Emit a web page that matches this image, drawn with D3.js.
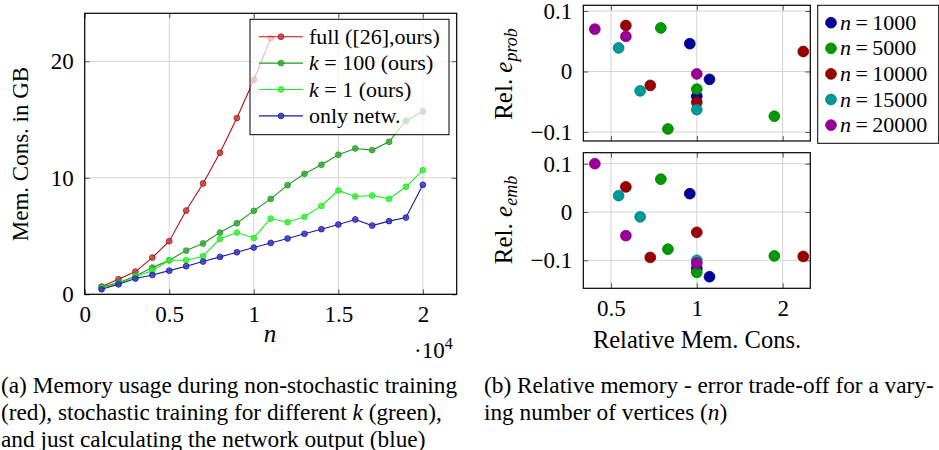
<!DOCTYPE html>
<html>
<head>
<meta charset="utf-8">
<script src="https://cdn.jsdelivr.net/npm/d3@7"></script>
<style>
  body { margin: 0; background: #fff; }
</style>
</head>
<body>
<div class="canvas"></div>
<script>
// ---- data: left plot (n in units of 10^4, memory in GB)
const nTicks = [0.1, 0.2, 0.3, 0.4, 0.5, 0.6, 0.7, 0.8, 0.9, 1.0, 1.1, 1.2, 1.3, 1.4, 1.5, 1.6, 1.7, 1.8, 1.9, 2.0];
const memFull = [0.66, 1.29, 1.95, 3.15, 4.56, 7.19, 9.51, 12.15, 15.13, 18.4, 21.98];
const memK100 = [0.6, 1.0, 1.58, 2.29, 2.92, 3.75, 4.36, 5.3, 6.1, 7.16, 8.19, 9.37, 10.34, 11.12, 11.98, 12.52, 12.38, 13.09, 14.9, 15.7];
const memK1 = [0.54, 0.89, 1.52, 2.03, 2.92, 2.92, 3.27, 4.76, 5.3, 4.84, 6.5, 6.19, 6.65, 7.59, 8.91, 8.4, 8.48, 8.19, 9.23, 10.66];
const memNet = [0.43, 0.86, 1.35, 1.66, 2.03, 2.41, 2.81, 3.21, 3.61, 4.01, 4.41, 4.79, 5.19, 5.59, 5.99, 6.42, 5.9, 6.28, 6.59, 9.4];

// ---- data: right plot (relative memory vs relative errors)
const nGroups = [1000, 5000, 10000, 15000, 20000];
const relMem = [
  [0.945, 1.108, 1],
  [0.748, 0.792, 1, 1.87],
  [0.564, 0.687, 1, 2.362],
  [0.532, 0.633, 1],
  [0.439, 0.564, 1]
];
const eProb = [
  [0.046, -0.013, -0.041],
  [0.072, -0.095, -0.029, -0.074],
  [0.076, -0.023, -0.051, 0.033],
  [0.039, -0.032, -0.063],
  [0.070, 0.058, -0.004]
];
const eEmb = [
  [0.038, -0.134, -0.117],
  [0.068, -0.077, -0.125, -0.091],
  [0.052, -0.094, -0.042, -0.092],
  [0.034, -0.010, -0.100],
  [0.100, -0.049, -0.106]
];
const groupColors = ["#000099", "#009900", "#990000", "#009999", "#990099"];

const FONT = "Liberation Serif";
const svg = d3.select(".canvas").append("svg")
  .attr("width", 939).attr("height", 450)
  .attr("font-family", FONT);

const gridColor = "#d4d4d4";
const fs = 23;

let txt = (parent) => parent.append("text").attr("font-family", FONT);

// ================= left plot =================
let xL = d3.scaleLinear().domain([0, 2.2]).range([84.7, 456.7]);
let yL = d3.scaleLinear().domain([0, 24.12]).range([294.3, 13.3]);
let left = svg.append("g");

// grid
left.selectAll(".gx").data([0, 0.5, 1, 1.5, 2]).enter().append("line")
  .attr("x1", d => xL(d)).attr("x2", d => xL(d))
  .attr("y1", yL.range()[0]).attr("y2", yL.range()[1])
  .attr("stroke", gridColor).attr("stroke-width", 1);
left.selectAll(".gy").data([0, 10, 20]).enter().append("line")
  .attr("x1", xL.range()[0]).attr("x2", xL.range()[1])
  .attr("y1", d => yL(d)).attr("y2", d => yL(d))
  .attr("stroke", gridColor).attr("stroke-width", 1);

// axes with inner ticks on all sides
let axB = d3.axisBottom(xL).tickValues([0, 0.5, 1, 1.5, 2]).tickSize(-5).tickFormat(d3.format("~g")).tickPadding(11);
let axT = d3.axisTop(xL).tickValues([0, 0.5, 1, 1.5, 2]).tickSize(-5).tickFormat("");
let axLft = d3.axisLeft(yL).tickValues([0, 10, 20]).tickSize(-5).tickPadding(11);
let axR = d3.axisRight(yL).tickValues([0, 10, 20]).tickSize(-5).tickFormat("");
[[axB, `translate(0,${yL.range()[0]})`], [axT, `translate(0,${yL.range()[1]})`],
 [axLft, `translate(${xL.range()[0]},0)`], [axR, `translate(${xL.range()[1]},0)`]].forEach(([ax, tr]) => {
  let g = left.append("g").attr("transform", tr).call(ax);
  g.attr("font-family", FONT);
  g.select(".domain").remove();
  g.selectAll("line").attr("stroke", "#555");
  g.selectAll("text").attr("font-family", FONT).attr("font-size", fs).attr("fill", "#000");
});
left.append("rect")
  .attr("x", xL.range()[0]).attr("y", yL.range()[1])
  .attr("width", xL.range()[1] - xL.range()[0]).attr("height", yL.range()[0] - yL.range()[1])
  .attr("fill", "none").attr("stroke", "#000").attr("stroke-width", 1.2);

const seriesL = [
  { name: "full", vals: memFull, color: "#b01010", fill: "#c04040" },
  { name: "k100", vals: memK100, color: "#1f9a1f", fill: "#35a835" },
  { name: "k1", vals: memK1, color: "#1ee81e", fill: "#38f038" },
  { name: "net", vals: memNet, color: "#1a1aaa", fill: "#3838bc" }
];
let line = d3.line().x(d => xL(d[0])).y(d => yL(d[1]));
seriesL.forEach(s => {
  let pts = s.vals.map((v, i) => [nTicks[i], v]);
  left.append("path").datum(pts).attr("d", line)
    .attr("fill", "none").attr("stroke", s.color).attr("stroke-width", 1.1);
  left.selectAll(null).data(pts).enter().append("circle")
    .attr("cx", d => xL(d[0])).attr("cy", d => yL(d[1])).attr("r", 2.9)
    .attr("fill", s.fill).attr("fill-opacity", 0.85)
    .attr("stroke", s.color).attr("stroke-width", 0.8);
});

// legend (semi transparent)
let lg = left.append("g");
lg.append("rect").attr("x", 250).attr("y", 19.3).attr("width", 199).attr("height", 115.4)
  .attr("fill", "#fff").attr("fill-opacity", 0.7).attr("stroke", "#000").attr("stroke-width", 1);
const legRowsL = [
  [{ t: "full ([26],ours)" }],
  [{ t: "k", i: true }, { t: " = 100 (ours)" }],
  [{ t: "k", i: true }, { t: " = 1 (ours)" }],
  [{ t: "only netw." }]
];
seriesL.forEach((s, i) => {
  let y = 36.7 + i * 26.4;
  lg.append("line").attr("x1", 259).attr("x2", 303).attr("y1", y).attr("y2", y)
    .attr("stroke", s.color).attr("stroke-width", 1.1);
  lg.append("circle").attr("cx", 281).attr("cy", y).attr("r", 2.9)
    .attr("fill", s.fill).attr("fill-opacity", 0.85).attr("stroke", s.color).attr("stroke-width", 0.8);
  let tx = txt(lg).attr("x", 309).attr("y", y + 7).attr("font-size", 22);
  legRowsL[i].forEach(p => tx.append("tspan").text(p.t).attr("font-style", p.i ? "italic" : "normal"));
});

// axis labels
txt(left).attr("transform", "translate(28,154) rotate(-90)")
  .attr("text-anchor", "middle").attr("font-size", 23).text("Mem. Cons. in GB");
txt(left).attr("x", 270).attr("y", 342).attr("text-anchor", "middle")
  .attr("font-size", 25).attr("font-style", "italic").text("n");
let expo = txt(left).attr("x", 414).attr("y", 358).attr("font-size", fs);
expo.append("tspan").text("·10");
expo.append("tspan").attr("dy", -9).attr("font-size", 16).text("4");

// ================= right plot =================
let xR = d3.scaleLog().domain([0.4, 2.5]).range([583.3, 810.3]);
const panels = [
  { vals: eProb, y: d3.scaleLinear().domain([-0.1149, 0.1094]).range([141, 5.3]), sub: "prob", cy: 74, ticks: true },
  { vals: eEmb, y: d3.scaleLinear().domain([-0.158, 0.1228]).range([288.3, 152.7]), sub: "emb", cy: 220, ticks: false }
];
let right = svg.append("g");
const fmt = d => d === 0 ? "0" : (d < 0 ? "\u2212" : "") + d3.format("~g")(Math.abs(d));

panels.forEach((p, pi) => {
  let g = right.append("g");
  let [y0, y1] = p.y.range();
  g.selectAll(null).data([0.5, 1, 2]).enter().append("line")
    .attr("x1", d => xR(d)).attr("x2", d => xR(d)).attr("y1", y0).attr("y2", y1)
    .attr("stroke", gridColor);
  g.selectAll(null).data([-0.1, 0, 0.1]).enter().append("line")
    .attr("x1", xR.range()[0]).attr("x2", xR.range()[1]).attr("y1", d => p.y(d)).attr("y2", d => p.y(d))
    .attr("stroke", gridColor);

  let ab = d3.axisBottom(xR).tickValues([0.5, 1, 2]).tickSize(-5).tickPadding(11)
    .tickFormat(p.ticks ? "" : d3.format("~g"));
  let at = d3.axisTop(xR).tickValues([0.5, 1, 2]).tickSize(-5).tickFormat("");
  let al = d3.axisLeft(p.y).tickValues([-0.1, 0, 0.1]).tickSize(-5).tickPadding(11).tickFormat(fmt);
  let ar = d3.axisRight(p.y).tickValues([-0.1, 0, 0.1]).tickSize(-5).tickFormat("");
  [[ab, `translate(0,${y0})`], [at, `translate(0,${y1})`],
   [al, `translate(${xR.range()[0]},0)`], [ar, `translate(${xR.range()[1]},0)`]].forEach(([ax, tr]) => {
    let a = g.append("g").attr("transform", tr).call(ax);
    a.attr("font-family", FONT);
    a.select(".domain").remove();
    a.selectAll("line").attr("stroke", "#555");
    a.selectAll("text").attr("font-family", FONT).attr("font-size", fs).attr("fill", "#000");
  });
  g.append("rect").attr("x", xR.range()[0]).attr("y", y1)
    .attr("width", xR.range()[1] - xR.range()[0]).attr("height", y0 - y1)
    .attr("fill", "none").attr("stroke", "#000").attr("stroke-width", 1.2);

  nGroups.forEach((n, gi) => {
    let pts = relMem[gi].map((m, i) => [m, p.vals[gi][i]]);
    g.selectAll(null).data(pts).enter().append("circle")
      .attr("cx", d => xR(d[0])).attr("cy", d => p.y(d[1])).attr("r", 5.4)
      .attr("fill", groupColors[gi])
      .attr("stroke", d3.color(groupColors[gi]).darker(0.6)).attr("stroke-width", 0.8);
  });

  let lab = txt(g).attr("transform", `translate(512,${p.cy}) rotate(-90)`)
    .attr("text-anchor", "middle").attr("font-size", 25);
  lab.append("tspan").text("Rel. ");
  lab.append("tspan").attr("font-style", "italic").text("e");
  lab.append("tspan").attr("font-style", "italic").attr("font-size", 18).attr("dy", 5).text(p.sub);
});

txt(right).attr("x", 697).attr("y", 348).attr("text-anchor", "middle")
  .attr("font-size", 24.5).text("Relative Mem. Cons.");

// right legend
let lr = right.append("g");
lr.append("rect").attr("x", 817.7).attr("y", 5.3).attr("width", 121).attr("height", 138)
  .attr("fill", "#fff").attr("stroke", "#000").attr("stroke-width", 1);
nGroups.forEach((n, i) => {
  let y = 22.7 + i * 25.6;
  lr.append("circle").attr("cx", 831).attr("cy", y).attr("r", 5.4)
    .attr("fill", groupColors[i]).attr("stroke", d3.color(groupColors[i]).darker(0.6)).attr("stroke-width", 0.8);
  let t = txt(lr).attr("x", 840).attr("y", y + 7).attr("font-size", 22);
  t.append("tspan").attr("font-style", "italic").text("n");
  t.append("tspan").text("\u2009=\u2009" + n);
});

// ================= captions =================
const capA = [
  [{ t: "(a) Memory usage during non-stochastic training" }],
  [{ t: "(red), stochastic training for different " }, { t: "k", i: true }, { t: " (green)," }],
  [{ t: "and just calculating the network output (blue)" }]
];
const capB = [
  [{ t: "(b) Relative memory - error trade-off for a vary-" }],
  [{ t: "ing number of vertices (" }, { t: "n", i: true }, { t: ")" }]
];
[[capA, 1], [capB, 484]].forEach(([lines, x0]) => {
  lines.forEach((ln, i) => {
    let t = txt(svg).attr("x", x0).attr("y", 393.3 + i * 27).attr("font-size", 23.3);
    ln.forEach(p => t.append("tspan").text(p.t).attr("font-style", p.i ? "italic" : "normal"));
  });
});
</script>
</body>
</html>
